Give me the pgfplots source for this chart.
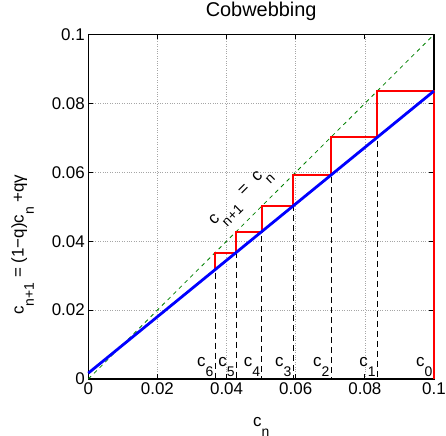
\documentclass[border=0pt]{standalone}
\usepackage{pgfplots}
\pgfplotsset{compat=1.18}
\usepackage{fontspec}
\setmainfont{Liberation Sans}
\definecolor{mgreen}{rgb}{0,0.5,0}
% MATLAB-like low subscript
\newcommand{\sub}[1]{\raisebox{-0.6em}{\fontsize{14}{14}\selectfont #1}}

\begin{document}
\begin{tikzpicture}
\begin{axis}[
    name=ax,
    scale only axis,
    width=345.7bp, height=344.5bp,
    xmin=0, xmax=0.1, ymin=0, ymax=0.1,
    xtick={0,0.02,0.04,0.06,0.08,0.1},
    ytick={0,0.02,0.04,0.06,0.08,0.1},
    xticklabels={0,0.02,0.04,0.06,0.08,0.1},
    yticklabels={0,0.02,0.04,0.06,0.08,0.1},
    tick align=inside,
    major tick length=5bp,
    grid=major,
    major grid style={gray!70, dotted, line width=0.6pt},
    axis line style={line width=1.3pt},
    tick style={black, line width=0.8pt},
    font=\fontsize{17}{20}\selectfont,
    title={Cobwebbing},
    title style={font=\fontsize{20}{24}\selectfont, at={(0.5,1.036)}, anchor=base},
    xlabel={c\sub{n}},
    ylabel={c\sub{n+1} = (1−q)c\sub{n} +qγ},
    xlabel style={at={(axis description cs:0.5,-0.138)}, anchor=base},
    ylabel style={at={(axis description cs:-0.19,0.39)}, anchor=center},
    clip=false,
    drop/.style={black, dash pattern=on 6bp off 4bp, line width=0.9pt},
]
% c_{n+1} = c_n
\addplot[mgreen, dash pattern=on 4bp off 4bp, line width=0.8pt] coordinates {(0,0) (0.1,0.1)};
% drop lines to the c_n axis
\addplot[drop] coordinates {(0.0836,0.0836) (0.0836,0)};
\addplot[drop] coordinates {(0.0702,0.0702) (0.0702,0)};
\addplot[drop] coordinates {(0.0592,0.0592) (0.0592,0)};
\addplot[drop] coordinates {(0.0502,0.0502) (0.0502,0)};
\addplot[drop] coordinates {(0.0428,0.0428) (0.0428,0)};
\addplot[drop] coordinates {(0.0367,0.0367) (0.0367,0)};
% cobweb
\addplot[red, line width=2bp] coordinates {
    (0.1,0) (0.1,0.0836) (0.0836,0.0836) (0.0836,0.0702) (0.0702,0.0702)
    (0.0702,0.0592) (0.0592,0.0592) (0.0592,0.0502) (0.0502,0.0502)
    (0.0502,0.0428) (0.0428,0.0428) (0.0428,0.0367) (0.0367,0.0367)
    (0.0367,0.0318)};
% map c_{n+1} = (1-q)c_n + q gamma
\addplot[blue, line width=2.8bp] coordinates {(0,0.0017) (0.1,0.0836)};

\node[anchor=south east, inner xsep=1.5bp, inner ysep=2bp] at (axis cs:0.1,0) {c\sub{0}};
\node[anchor=south east, inner xsep=1.5bp, inner ysep=2bp] at (axis cs:0.0836,0) {c\sub{1}};
\node[anchor=south east, inner xsep=1.5bp, inner ysep=2bp] at (axis cs:0.0702,0) {c\sub{2}};
\node[anchor=south east, inner xsep=1.5bp, inner ysep=2bp] at (axis cs:0.0592,0) {c\sub{3}};
\node[anchor=south east, inner xsep=1.5bp, inner ysep=2bp] at (axis cs:0.0502,0) {c\sub{4}};
\node[anchor=south east, inner xsep=1.5bp, inner ysep=2bp] at (axis cs:0.0428,0) {c\sub{5}};
\node[anchor=south east, inner xsep=1.5bp, inner ysep=2bp] at (axis cs:0.0367,0) {c\sub{6}};
\node[rotate=45, anchor=base west, inner sep=0pt] at (axis cs:0.0364,0.0444) {c\sub{n+1}~~=~~c\sub{n}};
\end{axis}
\pgfresetboundingbox
\useasboundingbox ([xshift=-88.3bp,yshift=-57bp]ax.south west) rectangle ([xshift=12bp,yshift=34.5bp]ax.north east);
\end{tikzpicture}
\end{document}
